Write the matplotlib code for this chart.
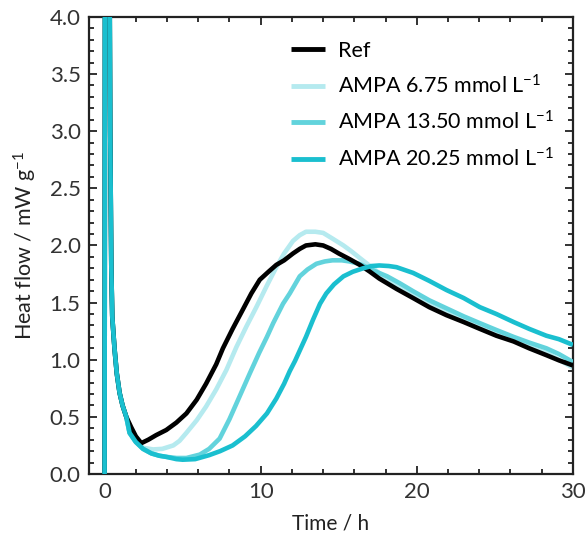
import matplotlib
matplotlib.use("Agg")
import matplotlib.pyplot as plt
from matplotlib.ticker import MultipleLocator, FormatStrFormatter

plt.rcParams['font.family'] = ['Lato', 'DejaVu Sans']
plt.rcParams['mathtext.fontset'] = 'custom'
plt.rcParams['mathtext.rm'] = 'Lato'
plt.rcParams['mathtext.default'] = 'regular'

# ---- data ----
labels = ["Ref", "AMPA 6.75 mmol L$^{-1}$", "AMPA 13.50 mmol L$^{-1}$", "AMPA 20.25 mmol L$^{-1}$"]
colors = ["#000000", "#B5EAEF", "#62D3DC", "#1ABFCF"]

# common initial spike and decay
spike_t = [0.0, 0.03, 0.30, 0.36, 0.43, 0.49, 0.57, 0.64, 0.78, 0.96, 1.15, 1.39]
spike_q = [0.0, 5.0, 5.0, 3.0, 1.8, 1.38, 1.22, 1.09, 0.88, 0.71, 0.60, 0.50]

ref_t = [1.7, 2.0, 2.35, 2.8, 3.3, 3.95, 4.6, 5.24, 5.9, 6.5, 7.15, 7.58, 8.2, 8.86, 9.4, 9.94,
         10.5, 11.0, 11.5, 12.07, 12.5, 12.9, 13.5, 14.0, 14.5, 15.0, 15.7, 16.35, 17.0, 17.6,
         18.7, 19.76, 20.8, 21.9, 23.0, 24.04, 25.1, 26.2, 27.2, 28.3, 29.1, 30.0]
ref_q = [0.41, 0.33, 0.27, 0.30, 0.34, 0.385, 0.45, 0.53, 0.65, 0.79, 0.96, 1.10, 1.27, 1.44,
         1.58, 1.70, 1.77, 1.83, 1.87, 1.93, 1.97, 2.00, 2.01, 2.00, 1.97, 1.93, 1.88, 1.83,
         1.77, 1.71, 1.62, 1.54, 1.46, 1.39, 1.33, 1.27, 1.21, 1.16, 1.10, 1.04, 0.995, 0.95]

a1_t = [1.6, 2.0, 2.46, 3.1, 3.7, 4.4, 4.8, 5.24, 5.9, 6.5, 7.15, 7.8, 8.44, 9.08, 9.72, 10.4,
        11.0, 11.5, 12.07, 12.5, 12.9, 13.5, 14.0, 14.6, 15.3, 15.8, 16.35, 17.1, 17.85, 18.7,
        19.76, 20.8, 21.9, 23.0, 24.04, 25.1, 26.2, 27.2, 28.3, 29.1, 30.0]
a1_q = [0.36, 0.28, 0.23, 0.215, 0.22, 0.25, 0.29, 0.36, 0.47, 0.59, 0.74, 0.91, 1.11, 1.29,
        1.46, 1.65, 1.81, 1.93, 2.04, 2.09, 2.12, 2.12, 2.11, 2.06, 2.00, 1.95, 1.89, 1.81,
        1.73, 1.66, 1.57, 1.50, 1.42, 1.36, 1.30, 1.24, 1.17, 1.11, 1.06, 1.00, 0.93]

a2_t = [1.6, 2.0, 2.46, 3.0, 3.5, 3.95, 4.6, 5.24, 6.1, 6.7, 7.37, 8.0, 8.65, 9.3, 9.9, 10.4,
        10.8, 11.43, 11.86, 12.5, 13.0, 13.57, 14.1, 14.6, 15.2, 15.7, 16.3, 16.8, 17.4, 18.1,
        18.9, 19.76, 20.8, 21.9, 23.0, 24.04, 25.1, 26.2, 27.2, 28.3, 29.1, 30.0]
a2_q = [0.36, 0.28, 0.22, 0.18, 0.16, 0.15, 0.14, 0.14, 0.17, 0.22, 0.31, 0.48, 0.68, 0.88,
        1.06, 1.20, 1.32, 1.49, 1.58, 1.73, 1.79, 1.84, 1.86, 1.87, 1.87, 1.86, 1.84, 1.81,
        1.77, 1.73, 1.67, 1.60, 1.52, 1.45, 1.38, 1.32, 1.26, 1.20, 1.15, 1.10, 1.05, 0.98]

a3_t = [1.6, 2.0, 2.46, 3.0, 3.5, 3.95, 4.6, 5.0, 5.8, 6.7, 7.4, 8.2, 9.0, 9.7, 10.4, 11.0,
        11.5, 11.86, 12.2, 12.5, 12.9, 13.35, 13.8, 14.2, 14.7, 15.3, 15.9, 16.56, 17.1, 17.6,
        18.2, 18.7, 19.76, 20.8, 21.9, 23.0, 24.04, 25.1, 26.2, 27.2, 28.3, 29.1, 30.0]
a3_q = [0.36, 0.28, 0.22, 0.18, 0.16, 0.15, 0.13, 0.125, 0.13, 0.165, 0.20, 0.25, 0.33, 0.42,
        0.53, 0.66, 0.79, 0.90, 0.99, 1.08, 1.20, 1.35, 1.49, 1.58, 1.66, 1.73, 1.77, 1.80,
        1.82, 1.825, 1.82, 1.81, 1.76, 1.69, 1.61, 1.54, 1.46, 1.40, 1.33, 1.27, 1.21, 1.18, 1.13]

series_t = [ref_t, a1_t, a2_t, a3_t]
series_q = [ref_q, a1_q, a2_q, a3_q]
zorders = [4, 2, 3, 5]

fig = plt.figure(figsize=(5.87, 5.39), dpi=100)
ax = fig.add_axes([0.1516, 0.1206, 0.8244, 0.848])

for t, q, c, lab, z in zip(series_t, series_q, colors, labels, zorders):
    ax.plot(spike_t + t, spike_q + q, color=c, lw=3.3, label=lab, zorder=z,
            solid_joinstyle='round', solid_capstyle='butt')

ax.set_xlim(-1, 30)
ax.set_ylim(0, 4)
ax.xaxis.set_major_locator(MultipleLocator(10))
ax.xaxis.set_minor_locator(MultipleLocator(2))
ax.yaxis.set_major_locator(MultipleLocator(0.5))
ax.yaxis.set_minor_locator(MultipleLocator(0.1))
ax.yaxis.set_major_formatter(FormatStrFormatter('%.1f'))

ax.tick_params(which='both', direction='in', top=True, right=True, width=1.3, color='#222222')
ax.tick_params(which='major', length=6, labelsize=16, labelcolor='#333333', pad=6)
ax.tick_params(which='minor', length=3.5)
for s in ax.spines.values():
    s.set_linewidth(1.6)
    s.set_color('#222222')

ax.set_xlabel("Time / h", fontsize=15, color='#222222', labelpad=8)
ax.set_ylabel("Heat flow / mW g$^{-1}$", fontsize=15.5, color='#222222', labelpad=8)

leg = ax.legend(loc='upper right', bbox_to_anchor=(1.0, 0.99), frameon=False, fontsize=15.5,
                handlelength=1.6, handletextpad=0.6, labelspacing=0.62)
for h in leg.get_lines():
    h.set_linewidth(3.5)

fig.savefig("out.png", dpi=100)
